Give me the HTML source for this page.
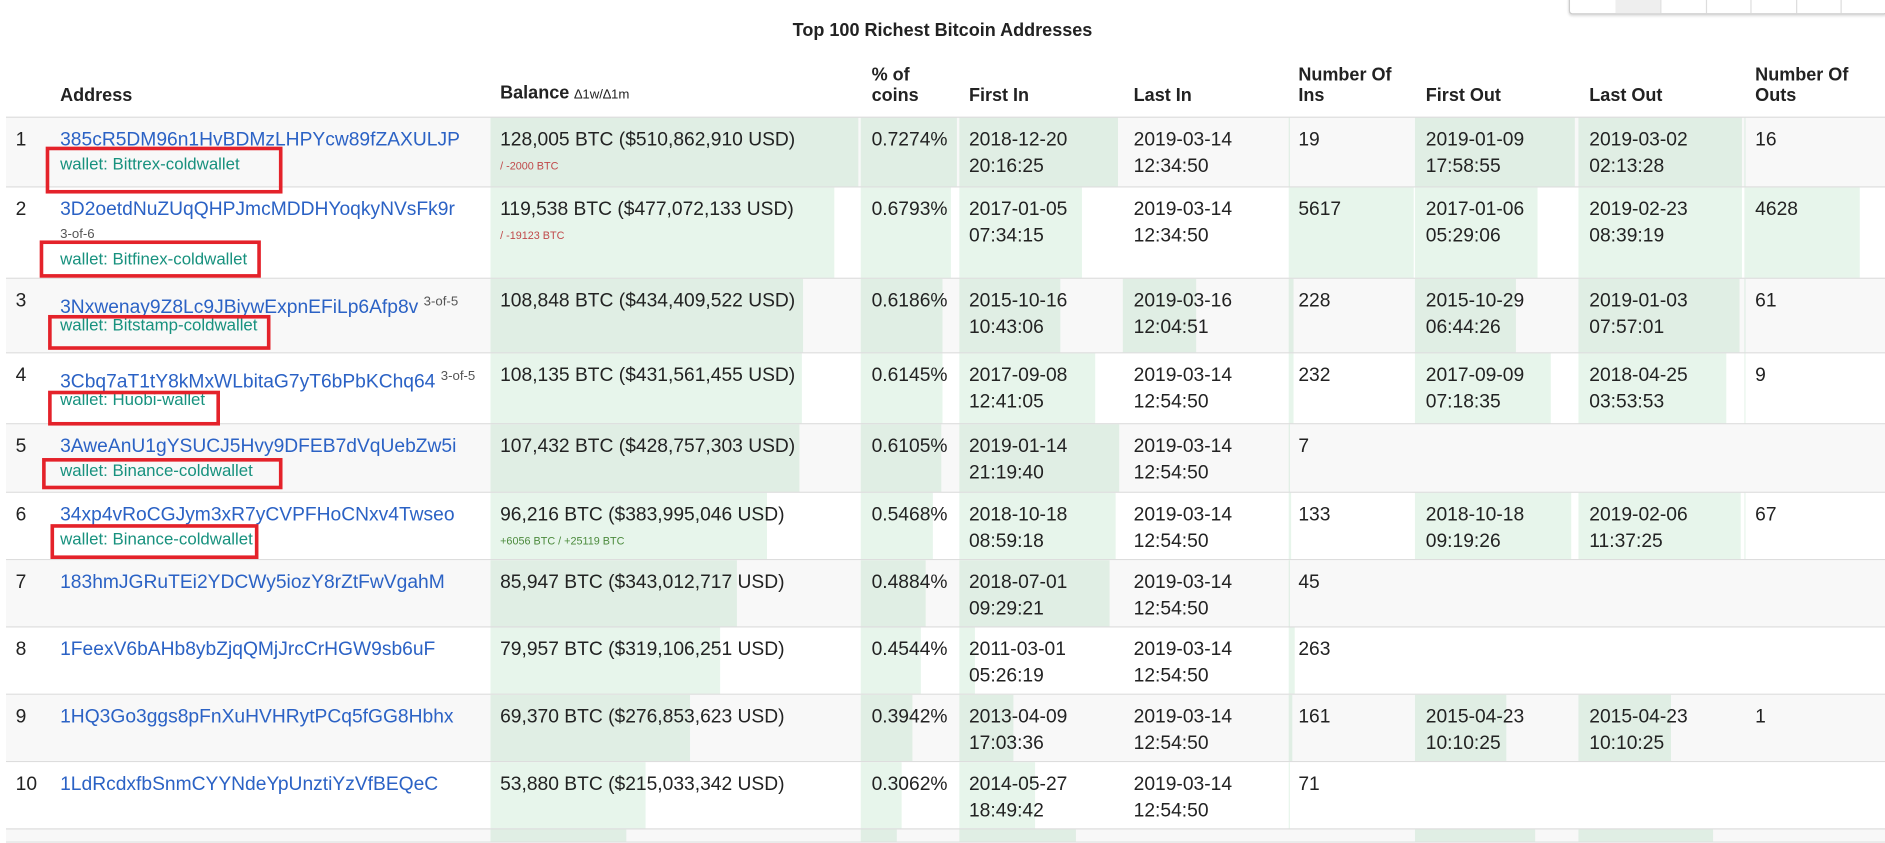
<!DOCTYPE html>
<html><head><meta charset="utf-8">
<style>
html,body{margin:0;padding:0;background:#fff;overflow:hidden;width:1885px;height:843px}
#wrap{position:absolute;left:0;top:0;width:1568px;height:701px;transform:scale(1.20217);transform-origin:0 0;font-family:"Liberation Sans",Arial,sans-serif;color:#222;overflow:hidden}
.abs{position:absolute}
.title{left:0;width:1568px;top:17px;text-align:center;font-weight:bold;font-size:15px}
.hd{font-weight:bold;font-size:15px;line-height:17px}
.row{position:absolute;left:5px;width:1563px;border-bottom:1px solid #ddd}
.bar{position:absolute;top:0;bottom:0;background:rgba(60,170,90,0.12)}
.t{position:absolute;font-size:16px;line-height:22px;white-space:nowrap}
.addr{color:#2b62c5}
.ms{color:#555;font-size:11px}
.wal{color:#17917e;font-size:14px}
.dl{font-size:9px}
.box{position:absolute;border:3px solid #e4222a;box-sizing:border-box}
.btns{left:1305px;top:-4px;width:263px;height:14px;border:1px solid #ccc;border-radius:3px;box-shadow:0 1px 2px rgba(0,0,0,.15);background:#fff}
</style></head><body>
<div id="wrap">
<div class="abs btns" id="btns"></div>
<div class="abs title">Top 100 Richest Bitcoin Addresses</div>
<div class="abs hd" style="left:50px;top:71px">Address</div>
<div class="abs hd" style="left:416px;top:69px">Balance <span style="font-size:11px;font-weight:normal">∆1w/∆1m</span></div>
<div class="abs hd" style="left:725px;top:54px">% of<br>coins</div>
<div class="abs hd" style="left:806px;top:71px">First In</div>
<div class="abs hd" style="left:943px;top:71px">Last In</div>
<div class="abs hd" style="left:1080px;top:54px">Number Of<br>Ins</div>
<div class="abs hd" style="left:1186px;top:71px">First Out</div>
<div class="abs hd" style="left:1322px;top:71px">Last Out</div>
<div class="abs hd" style="left:1460px;top:54px">Number Of<br>Outs</div>
<div class="abs" style="left:5px;top:97px;width:1563px;height:2px;background:#ddd"></div>
<div id="rows"></div>
</div>
<script>
const addresses=["385cR5DM96n1HvBDMzLHPYcw89fZAXULJP","3D2oetdNuZUqQHPJmcMDDHYoqkyNVsFk9r","3Nxwenay9Z8Lc9JBiywExpnEFiLp6Afp8v","3Cbq7aT1tY8kMxWLbitaG7yT6bPbKChq64","3AweAnU1gYSUCJ5Hvy9DFEB7dVqUebZw5i","34xp4vRoCGJym3xR7yCVPFHoCNxv4Twseo","183hmJGRuTEi2YDCWy5iozY8rZtFwVgahM","1FeexV6bAHb8ybZjqQMjJrcCrHGW9sb6uF","1HQ3Go3ggs8pFnXuHVHRytPCq5fGG8Hbhx","1LdRcdxfbSnmCYYNdeYpUnztiYzVfBEQeC",""];
const multisig=["","3-of-6","3-of-5","3-of-5","","","","","","",""];
const wallets=["Bittrex-coldwallet","Bitfinex-coldwallet","Bitstamp-coldwallet","Huobi-wallet","Binance-coldwallet","Binance-coldwallet","","","","",""];
const btc=[128005,119538,108848,108135,107432,96216,85947,79957,69370,53880,47200];
const usd=["510,862,910","477,072,133","434,409,522","431,561,455","428,757,303","383,995,046","343,012,717","319,106,251","276,853,623","215,033,342",""];
const deltas=["/ -2000 BTC","/ -19123 BTC","","","","+6056 BTC / +25119 BTC","","","","",""];
const pct=[0.7274,0.6793,0.6186,0.6145,0.6105,0.5468,0.4884,0.4544,0.3942,0.3062,0.27];
const firstIn=["2018-12-20 20:16:25","2017-01-05 07:34:15","2015-10-16 10:43:06","2017-09-08 12:41:05","2019-01-14 21:19:40","2018-10-18 08:59:18","2018-07-01 09:29:21","2011-03-01 05:26:19","2013-04-09 17:03:36","2014-05-27 18:49:42","2016-09-01 00:00:00"];
const lastIn=["2019-03-14 12:34:50","2019-03-14 12:34:50","2019-03-16 12:04:51","2019-03-14 12:54:50","2019-03-14 12:54:50","2019-03-14 12:54:50","2019-03-14 12:54:50","2019-03-14 12:54:50","2019-03-14 12:54:50","2019-03-14 12:54:50",""];
const lastInBar=[0,0,0.45,0,0,0,0,0,0,0,0];
const ins=[19,5617,228,232,7,133,45,263,161,71,0];
const firstOut=["2019-01-09 17:58:55","2017-01-06 05:29:06","2015-10-29 06:44:26","2017-09-09 07:18:35","","2018-10-18 09:19:26","","","2015-04-23 10:10:25","","2016-11-01 00:00:00"];
const lastOut=["2019-03-02 02:13:28","2019-02-23 08:39:19","2019-01-03 07:57:01","2018-04-25 03:53:53","","2019-02-06 11:37:25","","","2015-04-23 10:10:25","","2017-08-01 00:00:00"];
const outs=[16,4628,61,9,null,67,null,null,1,null,null];

const rowTops=[98,156,232,294,353,410,466,522,578,634,690,701];
const boxes=[[38,122,197,39],[33,200,184,31],[40,262,185,29],[40,325,143,29],[35,381,200,26],[42,436,173,29]];
const T0=Date.parse("2010-04-20"),T1=Date.parse("2019-03-20");
function dateFrac(s){if(!s)return 0;const t=Date.parse(s.slice(0,10));return Math.max(0,Math.min(1,(t-T0)/(T1-T0)));}
const maxBtc=Math.max(...btc),maxPct=Math.max(...pct);
const rowsEl=document.getElementById('rows');
const btns=document.getElementById('btns');
for(let i=1;i<7;i++){const d=document.createElement('div');d.style.cssText='position:absolute;top:0;bottom:0;width:1px;background:#ddd;left:'+(i*37.5)+'px';


btns.appendChild(d);}
const act=document.createElement('div');act.style.cssText='position:absolute;top:0;bottom:0;left:38px;width:37px;background:#eee';


btns.appendChild(act);

function bar(row,x,w,name){const b=document.createElement('div');b.className='bar';b.style.left=(x-5)+'px';b.style.width=Math.max(0,w)+'px';


row.appendChild(b);}
function txt(row,x,y,html,cls,name,inter){const e=document.createElement('div');e.className='t '+(cls||'');e.style.left=(x-5)+'px';e.style.top=y+'px';e.innerHTML=html;


row.appendChild(e);return e;}
function two(s){return s?s.slice(0,10)+'<br>'+s.slice(11):'';}

for(let i=0;i<btc.length;i++){
  const row=document.createElement('div');row.className='row';
  
  
  const top=rowTops[i],h=rowTops[i+1]-top-1;
  row.style.top=top+'px';row.style.height=h+'px';
  row.style.background=(i%2===0)?'#f8f8f8':'#fff';
  bar(row,408,btc[i]/maxBtc*306,'balance-bar');
  bar(row,716,pct[i]/maxPct*80,'pct-bar');
  bar(row,798,dateFrac(firstIn[i])*136,'first-in-bar');
  bar(row,934,lastInBar[i]*136,'last-in-bar');
  bar(row,1072,ins[i]/5617*104,'ins-bar');
  bar(row,1177,dateFrac(firstOut[i])*136,'first-out-bar');
  bar(row,1313,dateFrac(lastOut[i])*137,'last-out-bar');
  bar(row,1451,(outs[i]||0)/4628*96,'outs-bar');
  if(addresses[i]){
    txt(row,13,8,String(i+1),'','rank');
    const wrap=i===1;
    txt(row,50,8,'<span class="addr">'+addresses[i]+'</span>'+(multisig[i]&&!wrap?' <sup class="ms">'+multisig[i]+'</sup>':''),'','address-link',true);
    let wy=27;
    if(wrap){txt(row,50,28,multisig[i],'ms','multisig-label');wy=48;}
    if(wallets[i])txt(row,50,wy,'wallet: '+wallets[i],'wal','wallet-label',true);
    txt(row,416,8,btc[i].toLocaleString('en-US')+' BTC ($'+usd[i]+' USD)','','balance-value');
    if(deltas[i])txt(row,416,29,deltas[i],'dl','balance-delta').style.color=deltas[i].indexOf('+')>=0?'#4b8a3c':'#c0494a';
    txt(row,725,8,pct[i].toFixed(4)+'%','','pct-value');
    txt(row,806,8,two(firstIn[i]),'','first-in-value');
    txt(row,943,8,two(lastIn[i]),'','last-in-value');
    txt(row,1080,8,String(ins[i]),'','ins-value');
    txt(row,1186,8,two(firstOut[i]),'','first-out-value');
    txt(row,1322,8,two(lastOut[i]),'','last-out-value');
    if(outs[i]!=null)txt(row,1460,8,String(outs[i]),'','outs-value');
  }
  rowsEl.appendChild(row);
}
boxes.forEach(b=>{const d=document.createElement('div');d.className='box';
d.style.left=b[0]+'px';d.style.top=b[1]+'px';d.style.width=b[2]+'px';d.style.height=b[3]+'px';


document.getElementById('wrap').appendChild(d);});
</script>
</body></html>
